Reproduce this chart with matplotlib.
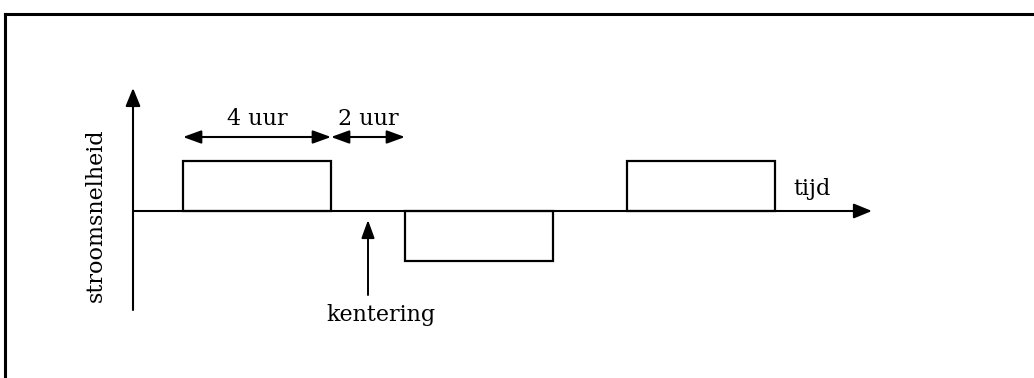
import matplotlib
matplotlib.use("Agg")
import matplotlib.pyplot as plt
from matplotlib.patches import Rectangle

# Data (time in hours, current speed in relative units)
interval_starts = [0, 6, 12]
interval_durations = [4, 4, 4]
interval_speeds = [1, -1, 1]
duration_labels = ["4 uur", "2 uur"]
duration_spans = [(0, 4), (4, 6)]
slack_time = 5
x_label = "tijd"
y_label = "stroomsnelheid"
slack_label = "kentering"

W, H, DPI = 1034, 378, 100
fig = plt.figure(figsize=(W / DPI, H / DPI), dpi=DPI)
ax = fig.add_axes([0, 0, 1, 1])
px_per_h = 37.0
px_per_v = 50.0
x0_px, y0_px = 183.0, 211.0
ax.set_xlim(-x0_px / px_per_h, (W - x0_px) / px_per_h)
ax.set_ylim((y0_px - H) / px_per_v, y0_px / px_per_v)
ax.axis("off")

FONT = dict(family="DejaVu Serif", fontsize=16, color="black")

# frame (top and left edges)
fig.add_artist(plt.Line2D([5 / W, 1], [1 - 14 / H, 1 - 14 / H], color="black", lw=2.2, transform=fig.transFigure))
fig.add_artist(plt.Line2D([5 / W, 5 / W], [0, 1 - 14 / H], color="black", lw=2.2, transform=fig.transFigure))

# axes arrows
t_axis_left = -50 / px_per_h
ax.annotate("", xy=(18.62, 0), xytext=(t_axis_left, 0),
            arrowprops=dict(arrowstyle="-|>,head_length=1.1,head_width=0.45", lw=1.5, color="black",
                            shrinkA=0, shrinkB=0))
ax.annotate("", xy=(t_axis_left, 2.46), xytext=(t_axis_left, -1.98),
            arrowprops=dict(arrowstyle="-|>,head_length=1.1,head_width=0.45", lw=1.5, color="black",
                            shrinkA=0, shrinkB=0))

# current blocks
for s, d, v in zip(interval_starts, interval_durations, interval_speeds):
    ax.add_patch(Rectangle((s, min(0, v)), d, abs(v), fill=False, ec="black", lw=1.6, zorder=3))

# duration arrows
for (a, b), lab in zip(duration_spans, duration_labels):
    ax.annotate("", xy=(b, 1.48), xytext=(a, 1.48),
                arrowprops=dict(arrowstyle="<|-|>,head_length=1.1,head_width=0.4", lw=1.5, color="black",
                                shrinkA=0, shrinkB=0))
    ax.text((a + b) / 2, 1.62, lab, ha="center", va="bottom", **FONT)

# slack arrow
ax.annotate("", xy=(slack_time, -0.18), xytext=(slack_time, -1.68),
            arrowprops=dict(arrowstyle="-|>,head_length=1.1,head_width=0.4", lw=1.4, color="black",
                            shrinkA=0, shrinkB=0))
ax.text(slack_time + 13 / px_per_h, -2.08, slack_label, ha="center", va="center", **FONT)

# labels
ax.text(17.0, 0.44, x_label, ha="center", va="center", **FONT)
ax.text(-2.35, -0.08, y_label, ha="center", va="center", rotation=90, **FONT)

fig.savefig("out.png", dpi=DPI)
